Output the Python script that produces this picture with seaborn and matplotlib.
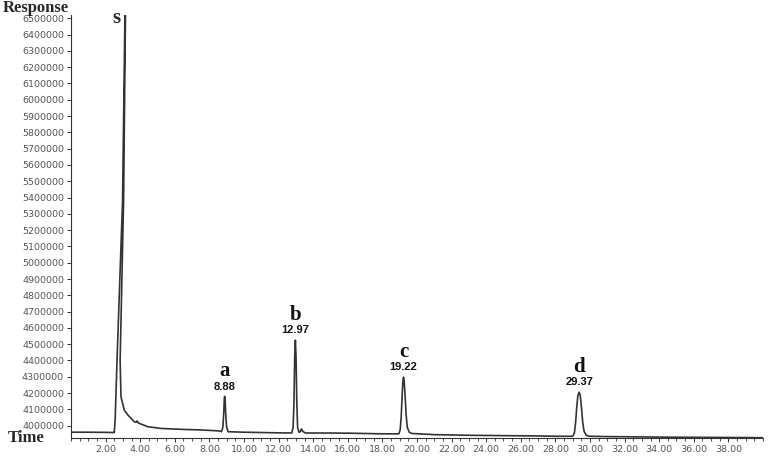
import matplotlib
matplotlib.use("Agg")
import matplotlib.pyplot as plt
import seaborn as sns
import pandas as pd
from matplotlib.ticker import MultipleLocator, FixedLocator, FormatStrFormatter

# ---- traced chromatogram (time in min, response) ----
time = [0.0, 1.0, 2.0, 2.45, 2.50, 2.55, 2.66, 2.98, 3.12,
        3.15, 3.04, 2.84, 2.89, 3.08, 3.29, 3.66, 3.76, 3.82, 3.90, 4.43, 5.2, 6.5, 7.5, 8.55,
        8.70, 8.78, 8.83, 8.86, 8.88, 8.91, 8.94, 8.99, 9.08,
        10.0, 11.0, 12.0, 12.76, 12.84, 12.89, 12.93, 12.97, 13.01, 13.05, 13.10, 13.18, 13.25,
        13.32, 13.40, 13.55,
        15.0, 16.0, 17.0, 18.0, 18.95, 19.03, 19.09, 19.14, 19.18, 19.22, 19.26, 19.31, 19.37,
        19.44, 19.55, 19.70,
        21.0, 23.0, 25.0, 27.0, 28.0, 29.0, 29.10, 29.17, 29.24, 29.30, 29.37, 29.44, 29.51,
        29.58, 29.66, 29.78, 29.95,
        31.0, 33.0, 35.0, 37.0, 39.0, 40.0]
response = [3960000, 3960000, 3959000, 3958000, 3958000, 4030000, 4400000, 5380000, 6540000,
            6540000, 5380000, 4400000, 4176000, 4096000, 4065000, 4024000, 4021000, 4029000,
            4016000, 3994000, 3983000, 3977000, 3974000, 3968000,
            3964000, 3990000, 4080000, 4160000, 4180000, 4160000, 4080000, 3995000, 3963000,
            3960000, 3958000, 3956000, 3955000, 3990000, 4150000, 4420000, 4525000, 4420000,
            4150000, 3990000, 3960000, 3962000, 3980000, 3965000, 3955000,
            3955000, 3954000, 3952000, 3950000, 3950000, 3975000, 4060000, 4180000, 4265000,
            4298000, 4270000, 4190000, 4070000, 3990000, 3960000, 3952000,
            3945000, 3941000, 3939000, 3937000, 3935000, 3935000, 3955000, 4020000, 4120000,
            4185000, 4206000, 4185000, 4110000, 4020000, 3965000, 3942000, 3935000,
            3933000, 3931000, 3929000, 3928000, 3927000, 3926000]

peak_letters = ["a", "b", "c", "d"]
peak_times = [8.88, 12.97, 19.22, 29.37]
peak_heights = [4180000, 4525000, 4298000, 4206000]

y_ticks = list(range(4000000, 6500001, 100000))
x_ticks = [2.0, 4.0, 6.0, 8.0, 10.0, 12.0, 14.0, 16.0, 18.0, 20.0, 22.0, 24.0, 26.0, 28.0,
           30.0, 32.0, 34.0, 36.0, 38.0]

df = pd.DataFrame({"time": time, "response": response})

sns.set_style("ticks")
plt.rcParams["font.family"] = ["DejaVu Sans"]

fig = plt.figure(figsize=(7.76, 4.58), dpi=100)
ax = fig.add_axes([0.0915, 0.0437, 0.8917, 0.9235])

sns.lineplot(data=df, x="time", y="response", sort=False, estimator=None,
             color="#333333", linewidth=1.2, ax=ax)

ax.set_xlim(0, 40)
ax.set_ylim(3924500, 6520000)
ax.set_xlabel("")
ax.set_ylabel("")

ax.yaxis.set_major_locator(FixedLocator(y_ticks))
ax.set_yticklabels([str(v) for v in y_ticks])
ax.xaxis.set_major_locator(FixedLocator(x_ticks))
ax.xaxis.set_major_formatter(FormatStrFormatter("%.2f"))
ax.xaxis.set_minor_locator(MultipleLocator(0.5))

ax.tick_params(axis="both", which="major", labelsize=6.8, labelcolor="#555555",
               color="#333333", length=3, width=0.7, pad=2)
ax.tick_params(axis="x", which="minor", length=2, width=0.6, color="#333333")

for s in ["top", "right"]:
    ax.spines[s].set_visible(False)
for s in ["left", "bottom"]:
    ax.spines[s].set_linewidth(0.8)
    ax.spines[s].set_color("#333333")

serif = ["Liberation Serif", "DejaVu Serif"]
fig.text(3 / 776, 1 - 8 / 458, "Response", fontfamily=serif, fontweight="bold",
         fontsize=12, ha="left", va="center")
fig.text(8 / 776, 1 - 438 / 458, "Time", fontfamily=serif, fontweight="bold",
         fontsize=12, ha="left", va="center")

ax.text(2.6, 6500000, "s", fontfamily=serif, fontweight="bold", fontsize=15,
        ha="center", va="center")

for letter, t, h in zip(peak_letters, peak_times, peak_heights):
    ax.annotate(f"{t:.2f}", xy=(t, h), xytext=(0, 7), textcoords="offset points",
                ha="center", va="center", fontsize=8, fontweight="bold",
                fontfamily=["Liberation Sans", "DejaVu Sans"], color="#111111")
    ax.annotate(letter, xy=(t, h), xytext=(0, 18), textcoords="offset points",
                ha="center", va="center", fontsize=15, fontweight="bold",
                fontfamily=serif, color="#111111")

fig.savefig("out.png", dpi=100)
